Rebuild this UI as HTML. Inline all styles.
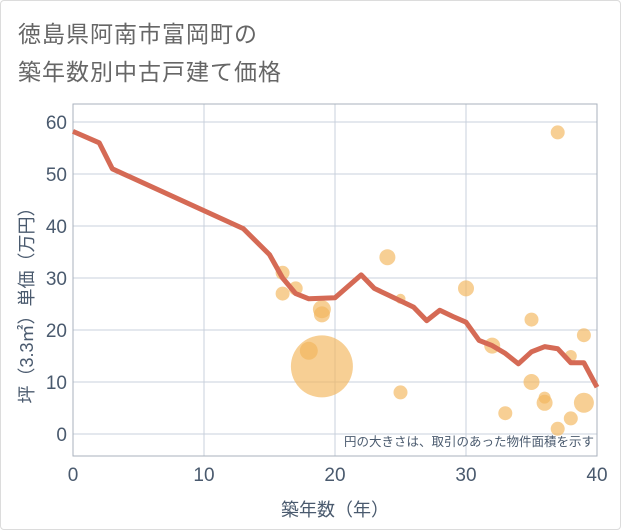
<!DOCTYPE html>
<html><head><meta charset="utf-8">
<style>
html,body{margin:0;padding:0;background:#fff;}
body{width:621px;height:530px;overflow:hidden;font-family:"Liberation Sans","Noto Sans CJK JP",sans-serif;}
#card{position:absolute;left:0;top:0;width:619px;height:528px;border:1px solid #dcdcdc;border-radius:4px;background:#fff;}
.title{position:absolute;left:17px;font-size:23px;color:#666;letter-spacing:1px;}
</style></head>
<body>
<div id="card">
<div class="title" style="top:14px">徳島県阿南市富岡町の</div>
<div class="title" style="top:52px">築年数別中古戸建て価格</div>
<svg id="chart" width="621" height="530" style="position:absolute;left:0;top:0"></svg>
</div>
<script>
const xTicks=[0,10,20,30,40];
const yTicks=[0,10,20,30,40,50,60];
const lineX=[0,2,3,13,15,16,17,18,20,22,23,24,25,26,27,28,29,30,31,32,33,34,35,36,37,38,39,40];
const lineY=[58.2,56,51,39.5,34.5,30,27,26,26.2,30.6,28,26.8,25.6,24.4,21.8,23.8,22.6,21.5,18,17,15.5,13.5,15.8,16.8,16.4,13.7,13.7,9];
const ptX=[16,16,17,18,19,19,19,24,25,25,30,32,33,35,35,36,36,37,37,38,38,39,39];
const ptY=[31,27,28,16,13,24,23,34,26,8,28,17,4,22,10,7,6,58,1,3,15,19,6];
const ptR=[7,7,7,9,31,9,8,8,5,7,8,8,7,7,8,6,8,7,7,7,6,7,10];
const L=72,R=596,T=103,B=455;
const sx=v=>L+(v-0)*(R-L)/40;
const sy=v=>433-v*5.2;
const svg=document.getElementById('chart');
const NS='http://www.w3.org/2000/svg';
function mk(t,a,p){const e=document.createElementNS(NS,t);for(const k in a)e.setAttribute(k,a[k]);(p||svg).appendChild(e);return e;}
const grid=mk('g',{});


yTicks.forEach(v=>{const l=mk('line',{x1:L,x2:R,y1:sy(v),y2:sy(v),stroke:'#c9d1dc','stroke-width':1},grid);


const t=mk('text',{x:L-6,y:sy(v)+7,'text-anchor':'end','font-size':19,fill:'#4a5a6e'});t.textContent=v;

});
xTicks.forEach(v=>{const l=mk('line',{x1:sx(v),x2:sx(v),y1:T,y2:B,stroke:'#c9d1dc','stroke-width':1},grid);


const t=mk('text',{x:sx(v),y:480,'text-anchor':'middle','font-size':19,fill:'#4a5a6e'});t.textContent=v;

});
const frame=mk('rect',{x:L,y:T,width:R-L,height:B-T,fill:'none',stroke:'#a9b2bd','stroke-width':1});


const pts=mk('g',{});


ptX.forEach((x,i)=>{const c=mk('circle',{cx:sx(x),cy:sy(ptY[i]),r:ptR[i],fill:'#f2b65a','fill-opacity':0.65},pts);

});
const d=lineX.map((x,i)=>(i?'L':'M')+sx(x)+','+sy(lineY[i])).join(' ');
const p=mk('path',{d:d,fill:'none',stroke:'#d56a55','stroke-width':5,'stroke-linejoin':'round'});


const note=mk('text',{x:593,y:445,'text-anchor':'end','font-size':12.5,fill:'#4a5a6e'});
note.textContent='円の大きさは、取引のあった物件面積を示す';


const xt=mk('text',{x:(L+R)/2,y:515,'text-anchor':'middle','font-size':18,fill:'#4a5a6e'});
xt.textContent='築年数（年）';


const yt=mk('text',{x:0,y:0,'text-anchor':'middle','font-size':18,fill:'#4a5a6e',transform:'translate(32,300) rotate(-90)'});
yt.textContent='坪（3.3㎡）単価（万円）';


</script>
</body></html>
